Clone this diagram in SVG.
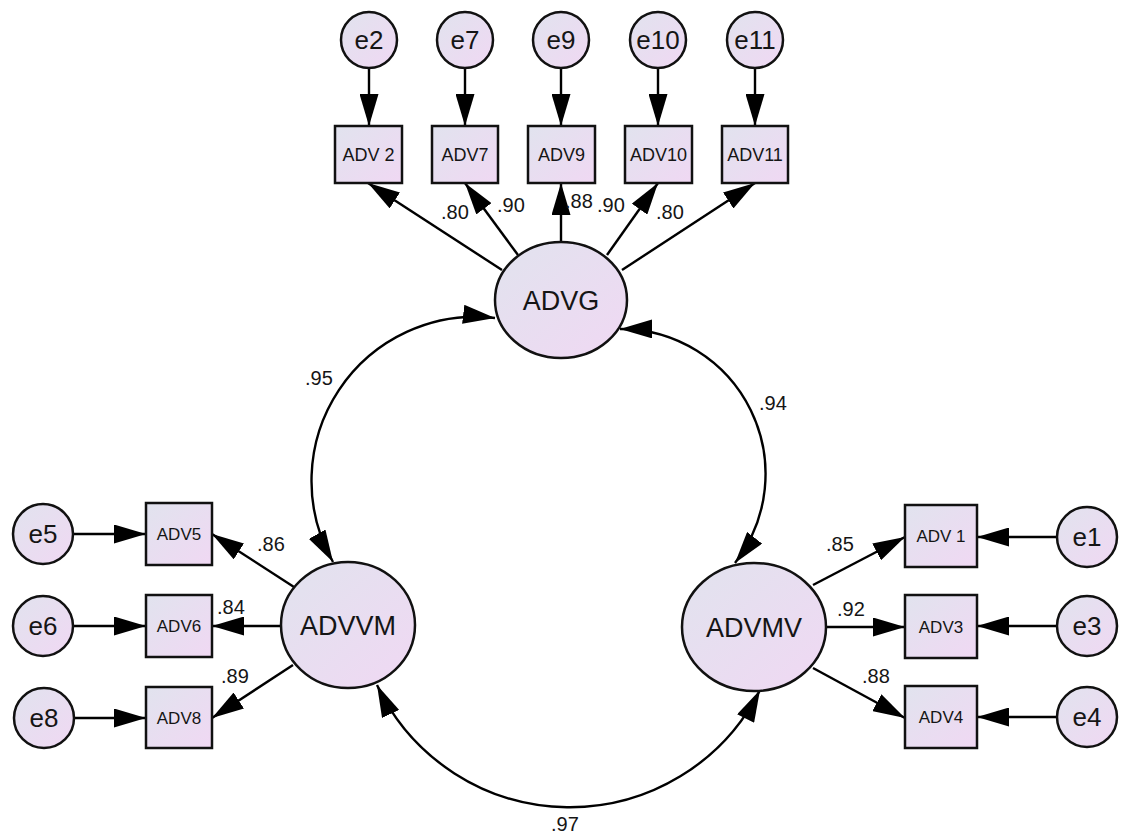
<svg xmlns="http://www.w3.org/2000/svg" width="1121" height="835" viewBox="0 0 1121 835">
<defs>
<linearGradient id="g" x1="0" y1="0" x2="1" y2="1">
<stop offset="0" stop-color="#e1e3ee"/>
<stop offset="1" stop-color="#f0d8f3"/>
</linearGradient>
<marker id="ah" markerUnits="userSpaceOnUse" markerWidth="32" markerHeight="19" refX="32" refY="9.5" orient="auto-start-reverse" viewBox="0 0 32 19">
<path d="M0,0 L32,9.5 L0,19 z" fill="#000"/>
</marker>
<style>
.n{fill:url(#g);stroke:#111;stroke-width:2.5}
.c line,.c path{stroke:#000;stroke-width:2.4;fill:none;marker-end:url(#ah)}
.c path{marker-start:url(#ah)}
text{font-family:"Liberation Sans",Arial,sans-serif;fill:#151515;text-anchor:middle}
.e{font-size:26px}
.lv{font-size:27px}
.ob{font-size:18px}
.os{font-size:17px}
.lb{font-size:20px;text-anchor:start}
</style>
</defs>
<rect width="1121" height="835" fill="#fff"/>
<g class="c" id="connectors">
<line x1="369" y1="68" x2="369" y2="126"/>
<line x1="465" y1="68" x2="465" y2="126"/>
<line x1="561" y1="68" x2="561" y2="126"/>
<line x1="658" y1="68" x2="658" y2="126"/>
<line x1="755" y1="68" x2="755" y2="126"/>
<line x1="502" y1="270" x2="368" y2="183"/>
<line x1="518" y1="255" x2="465" y2="183"/>
<line x1="561" y1="242" x2="561" y2="183"/>
<line x1="607" y1="255" x2="658" y2="183"/>
<line x1="622" y1="270" x2="755" y2="183"/>
<line x1="294" y1="587" x2="212" y2="534"/>
<line x1="281" y1="626" x2="212" y2="626"/>
<line x1="293" y1="665" x2="212" y2="718"/>
<line x1="74" y1="534" x2="146" y2="534"/>
<line x1="74" y1="626" x2="146" y2="626"/>
<line x1="75" y1="718" x2="146" y2="718"/>
<line x1="813" y1="585" x2="905" y2="537"/>
<line x1="826" y1="627" x2="905" y2="627"/>
<line x1="813" y1="668" x2="905" y2="718"/>
<line x1="1057" y1="537" x2="977" y2="537"/>
<line x1="1057" y1="626" x2="977" y2="626"/>
<line x1="1057" y1="717" x2="977" y2="717"/>
<path d="M495,318 A164,164 0 0,0 333,562"/>
<path d="M620,329 A145,145 0 0,1 735,563"/>
<path d="M377,685 A213,213 0 0,0 760,690"/>
</g>
<g id="labels">
<text class="lb" x="441" y="219">.80</text>
<text class="lb" x="497" y="212">.90</text>
<text class="lb" x="565" y="208">.88</text>
<text class="lb" x="597" y="212">.90</text>
<text class="lb" x="656" y="219">.80</text>
<text class="lb" x="305" y="385">.95</text>
<text class="lb" x="759" y="410">.94</text>
<text class="lb" x="257" y="551">.86</text>
<text class="lb" x="217" y="614">.84</text>
<text class="lb" x="221" y="683">.89</text>
<text class="lb" x="826" y="551">.85</text>
<text class="lb" x="837" y="616">.92</text>
<text class="lb" x="862" y="683">.88</text>
<text class="lb" x="551" y="831">.97</text>
</g>
<g id="ADVG"><ellipse class="n" cx="561" cy="300" rx="66" ry="58"/><text class="lv" x="561" y="310">ADVG</text></g>
<g id="ADVVM"><ellipse class="n" cx="348" cy="625" rx="67" ry="63"/><text class="lv" x="348" y="635">ADVVM</text></g>
<g id="ADVMV"><ellipse class="n" cx="754" cy="627" rx="72" ry="64"/><text class="lv" x="754" y="637">ADVMV</text></g>
<g id="e2"><circle class="n" cx="369" cy="40" r="28"/><text class="e" x="369" y="49">e2</text></g>
<g id="e7"><circle class="n" cx="465" cy="40" r="28"/><text class="e" x="465" y="49">e7</text></g>
<g id="e9"><circle class="n" cx="561" cy="40" r="28"/><text class="e" x="561" y="49">e9</text></g>
<g id="e10"><circle class="n" cx="658" cy="40" r="28"/><text class="e" x="658" y="49">e10</text></g>
<g id="e11"><circle class="n" cx="755" cy="40" r="28"/><text class="e" x="755" y="49">e11</text></g>
<g id="ADV2"><rect class="n" x="335" y="126" width="67" height="57"/><text class="ob" x="368.5" y="161">ADV 2</text></g>
<g id="ADV7"><rect class="n" x="432" y="126" width="66" height="57"/><text class="ob" x="465" y="161">ADV7</text></g>
<g id="ADV9"><rect class="n" x="528" y="126" width="67" height="57"/><text class="ob" x="561.5" y="161">ADV9</text></g>
<g id="ADV10"><rect class="n" x="625" y="126" width="67" height="57"/><text class="ob" x="658.5" y="161">ADV10</text></g>
<g id="ADV11"><rect class="n" x="722" y="126" width="66" height="57"/><text class="ob" x="755" y="161">ADV11</text></g>
<g id="e5"><circle class="n" cx="43" cy="534" r="30"/><text class="e" x="43" y="543">e5</text></g>
<g id="e6"><circle class="n" cx="43" cy="626" r="30"/><text class="e" x="43" y="635">e6</text></g>
<g id="e8"><circle class="n" cx="44" cy="718" r="30"/><text class="e" x="44" y="727">e8</text></g>
<g id="ADV5"><rect class="n" x="146" y="503" width="66" height="62"/><text class="os" x="179" y="540">ADV5</text></g>
<g id="ADV6"><rect class="n" x="146" y="595" width="66" height="62"/><text class="os" x="179" y="632">ADV6</text></g>
<g id="ADV8"><rect class="n" x="146" y="687" width="66" height="61"/><text class="os" x="179" y="724">ADV8</text></g>
<g id="ADV1"><rect class="n" x="905" y="505" width="72" height="62"/><text class="os" x="941" y="542">ADV 1</text></g>
<g id="ADV3"><rect class="n" x="905" y="595" width="72" height="63"/><text class="os" x="941" y="633">ADV3</text></g>
<g id="ADV4"><rect class="n" x="905" y="686" width="72" height="62"/><text class="os" x="941" y="723">ADV4</text></g>
<g id="e1"><circle class="n" cx="1087" cy="537" r="30"/><text class="e" x="1087" y="546">e1</text></g>
<g id="e3"><circle class="n" cx="1087" cy="626" r="30"/><text class="e" x="1087" y="635">e3</text></g>
<g id="e4"><circle class="n" cx="1087" cy="717" r="30"/><text class="e" x="1087" y="726">e4</text></g>
</svg>
